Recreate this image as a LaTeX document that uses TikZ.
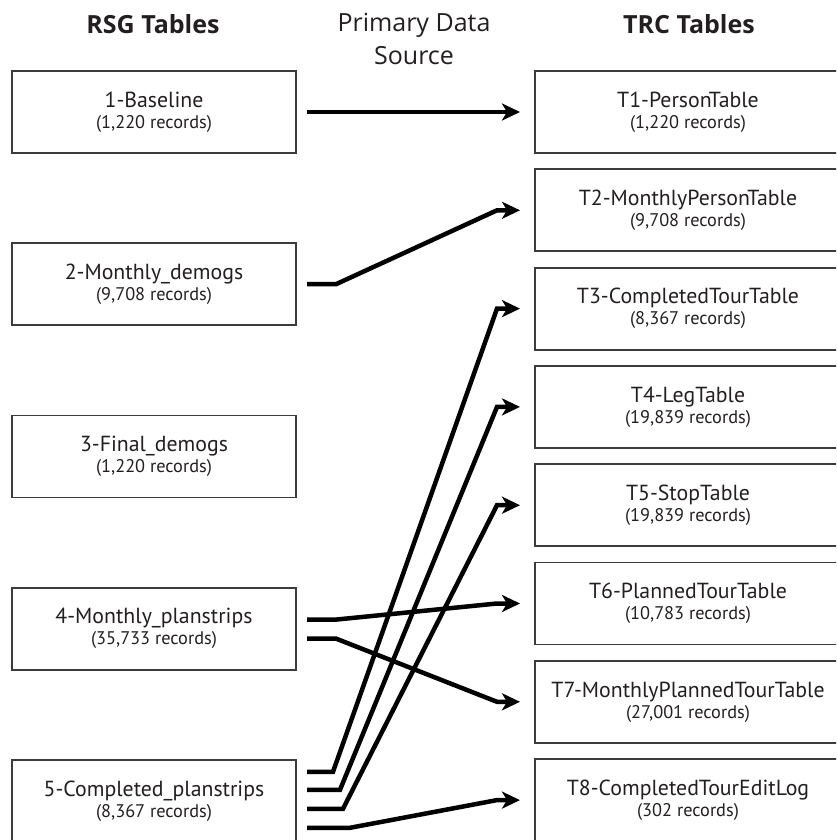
\documentclass[tikz,border=0pt]{standalone}
\usepackage{fontspec}
\setmainfont{PT Sans}
\newfontfamily\headfont{Open Sans}
\usetikzlibrary{arrows.meta,positioning,calc}
\definecolor{BoxGray}{RGB}{60,60,60}
\definecolor{InkGray}{RGB}{35,31,32}
\newcommand{\tbl}[2]{#1\\{\fontsize{18.3}{21}\selectfont(#2 records)}}

\begin{document}
\begin{tikzpicture}[x=1pt,y=-1pt,
    every node/.style={text=InkGray},
    rsg/.style={draw=BoxGray, line width=1.8pt, outer sep=0pt, minimum width=284pt, minimum height=82pt, align=center, font=\fontsize{21.8}{21}\selectfont},
    trc/.style={rsg, minimum width=306pt},
    head/.style={font=\headfont\fontsize{25}{33}\selectfont\bfseries},
    link/.style={line width=4.5pt, -{Stealth[length=18pt,width=17pt,inset=5pt]}}
]
\useasboundingbox (0,0) rectangle (836,840);
\clip (0,0) rectangle (836,840);

% column headers
\node[head] (rsgHead) at (153,24) {RSG Tables};
\node[align=center, font=\headfont\fontsize{25}{33}\selectfont] (srcHead) at (414,39) {Primary Data\\Source};
\node[head] (trcHead) at (689,24) {TRC Tables};

% RSG tables
\node[rsg] (L1) at (154,112) {\tbl{1-Baseline}{1,220}};
\node[rsg, below=90.2pt of L1] (L2) {\tbl{2-Monthly\_demogs}{9,708}};
\node[rsg, below=90.2pt of L2] (L3) {\tbl{3-Final\_demogs}{1,220}};
\node[rsg, below=90.2pt of L3] (L4) {\tbl{4-Monthly\_planstrips}{35,733}};
\node[rsg, below=90.2pt of L4] (L5) {\tbl{5-Completed\_planstrips}{8,367}};

% TRC tables
\node[trc] (R1) at (688,112) {\tbl{T1-PersonTable}{1,220}};
\node[trc, below=16.3pt of R1] (R2) {\tbl{T2-MonthlyPersonTable}{9,708}};
\node[trc, below=16.3pt of R2] (R3) {\tbl{T3-CompletedTourTable}{8,367}};
\node[trc, below=16.3pt of R3] (R4) {\tbl{T4-LegTable}{19,839}};
\node[trc, below=16.3pt of R4] (R5) {\tbl{T5-StopTable}{19,839}};
\node[trc, below=16.3pt of R5] (R6) {\tbl{T6-PlannedTourTable}{10,783}};
\node[trc, below=16.3pt of R6] (R7) {\tbl{T7-MonthlyPlannedTourTable}{27,001}};
\node[trc, below=16.3pt of R7] (R8) {\tbl{T8-CompletedTourEditLog}{302}};

% primary data source links
\draw[link] ([xshift=11pt]L1.east) -- ([xshift=-15pt]R1.west);
\draw[link] ([xshift=11pt]L2.east) -- ++(29,0) -- ([xshift=-38pt]R2.west) -- ([xshift=-15pt]R2.west);
\draw[link] ([xshift=11pt,yshift=9pt]L4.east) -- ++(29,0) -- ([xshift=-38pt]R6.west) -- ([xshift=-15pt]R6.west);
\draw[link] ([xshift=11pt,yshift=-10pt]L4.east) -- ++(29,0) -- ([xshift=-38pt]R7.west) -- ([xshift=-15pt]R7.west);
\draw[link] ([xshift=11pt,yshift=29pt]L5.east) -- ++(26,0) -- ([xshift=-38pt]R3.west) -- ([xshift=-15pt]R3.west);
\draw[link] ([xshift=11pt,yshift=11pt]L5.east) -- ++(33,0) -- ([xshift=-38pt]R4.west) -- ([xshift=-15pt]R4.west);
\draw[link] ([xshift=11pt,yshift=-8pt]L5.east) -- ++(36,0) -- ([xshift=-38pt]R5.west) -- ([xshift=-15pt]R5.west);
\draw[link] ([xshift=11pt,yshift=-27pt]L5.east) -- ++(43,0) -- ([xshift=-38pt]R8.west) -- ([xshift=-15pt]R8.west);
\end{tikzpicture}
\end{document}
